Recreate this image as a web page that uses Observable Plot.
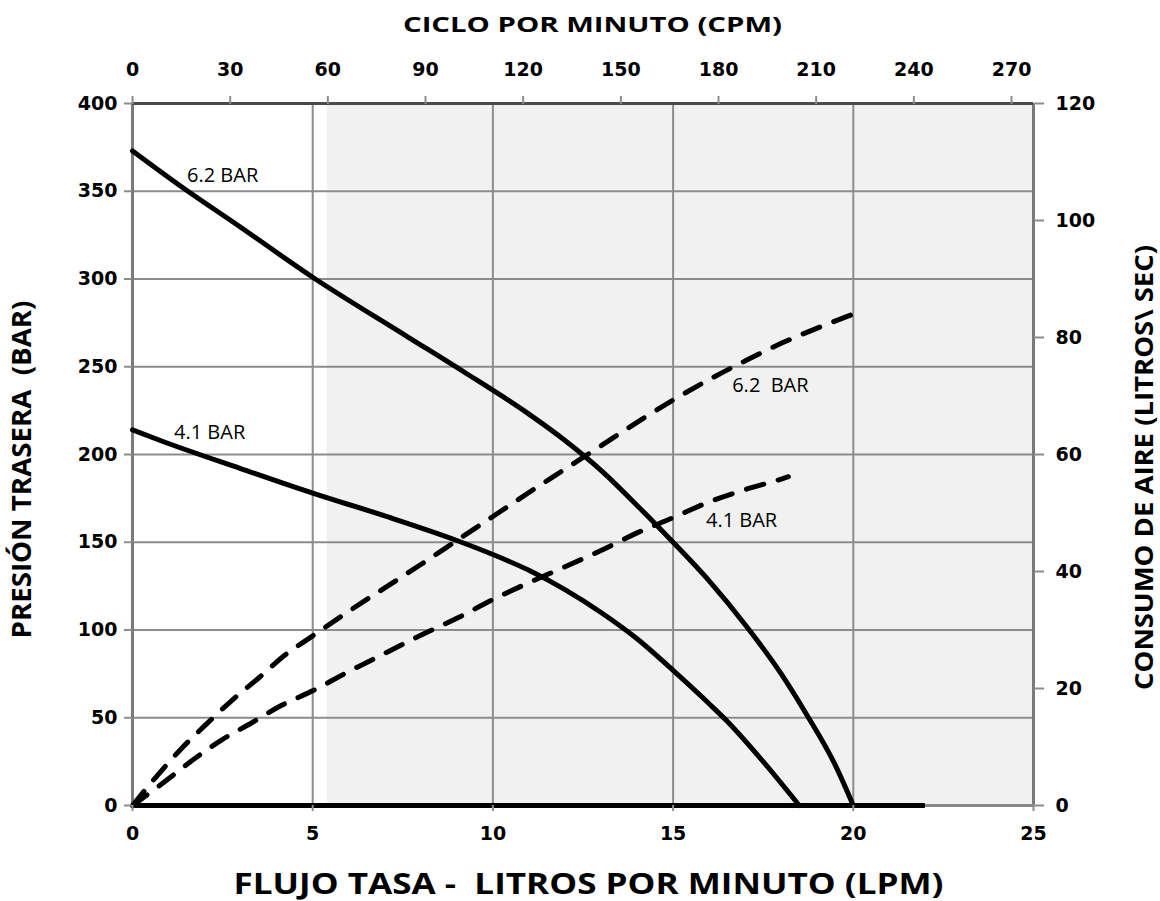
<!DOCTYPE html>
<html>
<head>
<meta charset="utf-8">
<script src="https://cdn.jsdelivr.net/npm/d3@7"></script>
<script src="https://cdn.jsdelivr.net/npm/@observablehq/plot@0.6"></script>
<style>
  body { margin: 0; background: #fff; }
  svg text { white-space: pre; }
</style>
</head>
<body>
<div id="chart"></div>
<script>
// ---- Axis tick values ----
const flowTicks = [0, 5, 10, 15, 20, 25];                 // LPM (bottom)
const pressureTicks = [0, 50, 100, 150, 200, 250, 300, 350, 400]; // BAR (left)
const airTicks = [0, 20, 40, 60, 80, 100, 120];           // LITROS/SEC (right)
const cpmTicks = [0, 30, 60, 90, 120, 150, 180, 210, 240, 270]; // CPM (top)

const FLOW_MAX = 25, PRESSURE_MAX = 400, AIR_MAX = 120;
const CPM_PER_LPM = 11.07;   // top axis ratio
const shadeStart = 5.4;      // shaded region starts here (LPM)
const baselineEnd = 22;      // thick black base line ends here (LPM)

// ---- Titles ----
const titleTop = "CICLO POR MINUTO (CPM)";
const titleBottom = "FLUJO TASA -  LITROS POR MINUTO (LPM)";
const titleLeft = "PRESIÓN TRASERA  (BAR)";
const titleRight = "CONSUMO DE AIRE (LITROS\\ SEC)";

// ---- Pressure curves (solid, left axis) ----
const flowP62 = [0, 1.4, 3, 5, 7.6, 9.2, 11, 12, 13, 14, 15, 16, 17, 18, 18.7, 19.5, 20];
const pressP62 = [373, 352, 329.5, 301, 267.5, 247, 223, 208, 191, 171, 150, 128, 103, 75, 52, 23, 0];

const flowP41 = [0, 0.9, 3, 5, 7, 9, 10, 11, 12, 13, 14, 15, 16, 16.5, 17.5, 18.5];
const pressP41 = [214, 207, 192, 178, 165, 151, 143, 134, 123, 110, 95, 77, 58, 48, 25, 0];

// ---- Air consumption curves (dashed, right axis) ----
const flowA62 = [0, 0.7, 1.4, 2.1, 2.8, 3.5, 4.25, 5, 6, 7, 8, 9, 10, 11, 12, 13, 14, 15, 16, 17, 18, 19, 20];
const airA62 = [0, 5.2, 10, 14.2, 18.2, 21.8, 25.8, 29, 33.2, 37.2, 41.2, 45.3, 49.4, 53.5, 57.5, 61.5, 65.5, 69.3, 72.8, 76, 79, 81.6, 84];

const flowA41 = [0, 0.9, 1.7, 2.5, 3.3, 4.1, 5, 6, 7, 8, 9, 10, 11, 12, 13, 14, 15, 16, 17, 18, 18.2];
const airA41 = [0, 4.1, 7.9, 11.3, 14.1, 17, 19.6, 22.9, 26, 29.1, 32, 35.2, 38.1, 40.8, 43.6, 46.6, 49.2, 51.9, 54, 55.8, 56.2];

// ---- Curve labels ----
const labelText = ["6.2 BAR", "4.1 BAR", "6.2\u00A0 BAR", "4.1 BAR"];
const labelFlow = [2.5, 2.14, 17.7, 16.9];
const labelPress = [359, 212.5, 239.3, 162.4];

// ---- Build tables ----
const airToY = v => v * PRESSURE_MAX / AIR_MAX;
const pts = (xs, ys, f = v => v) => xs.map((x, i) => ({x, y: f(ys[i])}));
const p62 = pts(flowP62, pressP62);
const p41 = pts(flowP41, pressP41);
const a62 = pts(flowA62, airA62, airToY);
const a41 = pts(flowA41, airA41, airToY);
const labels = labelText.map((t, i) => ({t, x: labelFlow[i], y: labelPress[i]}));

const gridColor = "#8c8c8c";
const tickFont = {fontFamily: "DejaVu Sans", fontWeight: "bold", fontSize: 19, fill: "black"};
const titleFont = {fontFamily: "Open Sans", fontWeight: "bold", fill: "black", textAnchor: "middle", lineAnchor: "middle"};

const chart = Plot.plot({
  width: 1160,
  height: 901,
  marginLeft: 132,
  marginRight: 127,
  marginTop: 103,
  marginBottom: 96,
  x: {domain: [0, FLOW_MAX]},
  y: {domain: [0, PRESSURE_MAX]},
  style: {background: "white", color: "black", overflow: "visible", fontFamily: "DejaVu Sans"},
  marks: [
    Plot.rect([shadeStart], {x1: d => d, x2: FLOW_MAX, y1: 0, y2: PRESSURE_MAX, fill: "#f1f1f1"}),
    Plot.gridX(flowTicks, {stroke: gridColor, strokeOpacity: 1, strokeWidth: 2}),
    Plot.gridY(pressureTicks, {stroke: gridColor, strokeOpacity: 1, strokeWidth: 2}),
    Plot.ruleX([0], {stroke: "#7a7a7a", strokeWidth: 3}),
    Plot.ruleX([FLOW_MAX], {stroke: "#7a7a7a", strokeWidth: 3}),
    Plot.ruleY([PRESSURE_MAX], {stroke: "#4a4a4a", strokeWidth: 3}),
    Plot.ruleY([0], {stroke: "#888", strokeWidth: 3}),
    // curves
    Plot.line(a62, {x: "x", y: "y", stroke: "black", strokeWidth: 5, strokeDasharray: "18,15", curve: "monotone-x"}),
    Plot.line(a41, {x: "x", y: "y", stroke: "black", strokeWidth: 5, strokeDasharray: "18,15", curve: "monotone-x"}),
    Plot.line(p62, {x: "x", y: "y", stroke: "black", strokeWidth: 5, curve: "monotone-x"}),
    Plot.line(p41, {x: "x", y: "y", stroke: "black", strokeWidth: 5, curve: "monotone-x"}),
    Plot.ruleY([0], {x1: 0, x2: baselineEnd, stroke: "black", strokeWidth: 5}),
    // curve labels
    Plot.text(labels, {x: "x", y: "y", text: "t", fontFamily: "Open Sans", fontSize: 20, fill: "black", lineAnchor: "middle"}),
    // axes
    Plot.axisX(flowTicks, {anchor: "bottom", label: null, tickSize: 6, tickPadding: 15, stroke: gridColor, strokeWidth: 2, ...tickFont}),
    Plot.axisX(cpmTicks.map(c => c / CPM_PER_LPM), {anchor: "top", label: null, tickSize: 8, tickPadding: 20, stroke: gridColor, strokeWidth: 2, tickFormat: d => String(Math.round(d * CPM_PER_LPM)), ...tickFont}),
    Plot.axisY(pressureTicks, {anchor: "left", label: null, tickSize: 8, tickPadding: 7, stroke: gridColor, strokeWidth: 2, ...tickFont}),
    Plot.axisY(airTicks.map(airToY), {anchor: "right", label: null, tickSize: 10, tickPadding: 12, stroke: gridColor, strokeWidth: 2, tickFormat: d => String(Math.round(d * AIR_MAX / PRESSURE_MAX)), ...tickFont}),
    // titles
    Plot.text([titleTop], {text: d => d, frameAnchor: "top", dx: 9.5, dy: -78, fontSize: 21, ...titleFont}),
    Plot.text([titleBottom], {text: d => d, frameAnchor: "bottom", dx: 5.5, dy: 80, fontSize: 28, ...titleFont}),
    Plot.text([titleLeft], {text: d => d, frameAnchor: "left", rotate: -90, dx: -110, dy: 15, fontSize: 26, ...titleFont}),
    Plot.text([titleRight], {text: d => d, frameAnchor: "right", rotate: -90, dx: 111, dy: 13, fontSize: 25, ...titleFont})
  ]
});

document.getElementById("chart").appendChild(chart);

// Fit title widths to the reference
const titleWidths = new Map([[titleTop, 379], [titleBottom, 710], [titleLeft, 338], [titleRight, 445]]);
d3.select(chart).selectAll("text").each(function () {
  const w = titleWidths.get(this.textContent);
  if (w) d3.select(this).attr("textLength", w).attr("lengthAdjust", "spacingAndGlyphs");
});
</script>
</body>
</html>
